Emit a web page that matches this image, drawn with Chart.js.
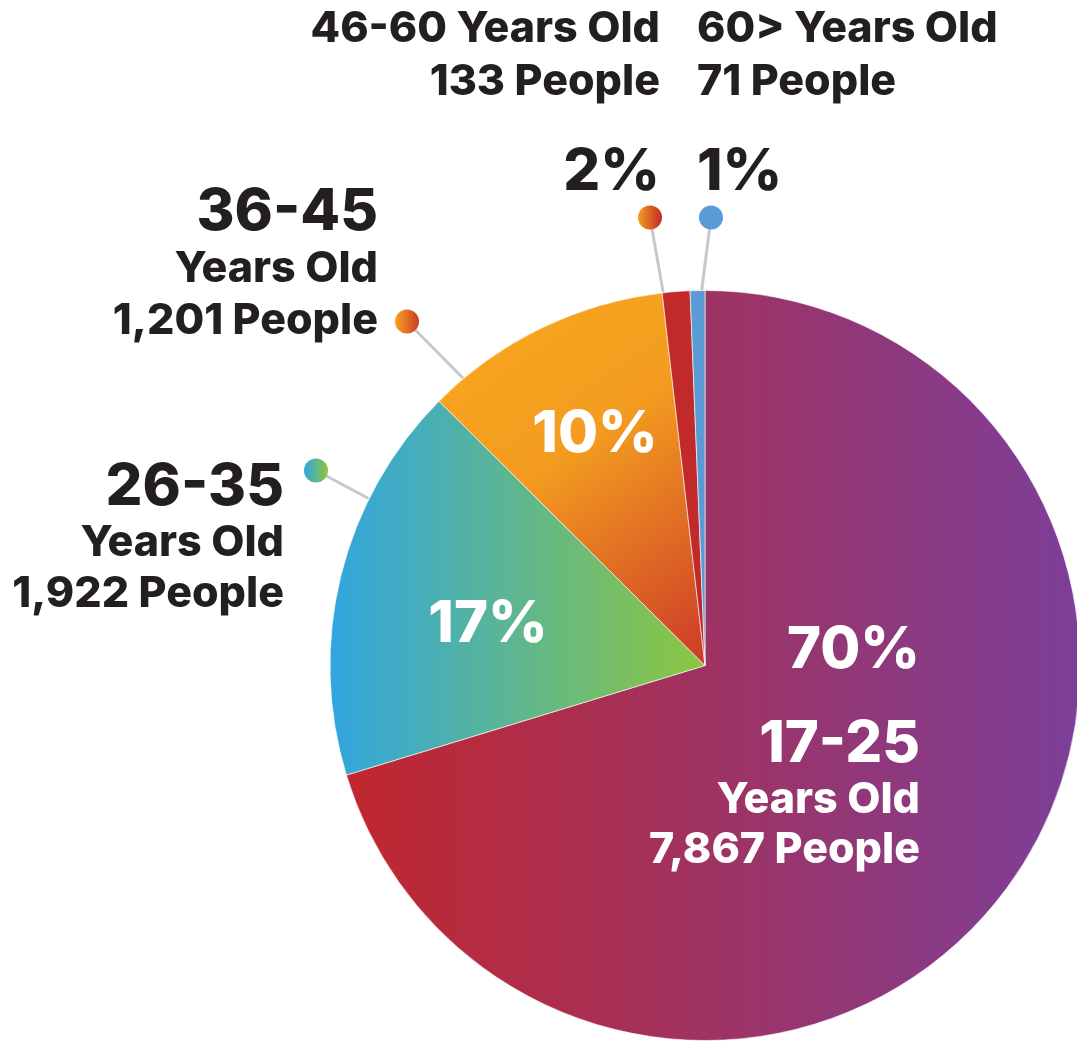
<!DOCTYPE html>
<html>
<head>
<meta charset="utf-8">
<script src="https://cdn.jsdelivr.net/npm/chart.js@4.4.0/dist/chart.umd.min.js"></script>
<style>
  html, body { margin: 0; padding: 0; background: #fff; overflow: hidden; }
  #wrap { width: 1100px; height: 1041px; }
</style>
</head>
<body>
<div id="wrap"><canvas id="ageChart" width="1100" height="1041"></canvas></div>
<script>
const ageGroups = ["17-25", "26-35", "36-45", "46-60", "60>"];
const people = [7867, 1922, 1201, 133, 71];
const pctLabels = ["70%", "17%", "10%", "2%", "1%"];

const FONT = "Inter, 'Open Sans', sans-serif";
const DARK = "#231f20";
const BIG = 58, SMALL = 43;

// pie centre and radius from the chart area
function pieGeom(chart) {
  const a = chart.chartArea;
  return { cx: (a.left + a.right) / 2, cy: (a.top + a.bottom) / 2, r: Math.min(a.right - a.left, a.bottom - a.top) / 2 };
}

function sliceFill(context) {
  const chart = context.chart;
  const fallback = ["#a33560", "#6fb86a", "#f29a20", "#c22a29", "#5b9bd5"][context.dataIndex];
  if (!chart.chartArea) return fallback;
  const { cx, cy, r } = pieGeom(chart);
  if (!isFinite(cx) || !isFinite(r)) return fallback;
  const c = chart.ctx;
  let g;
  switch (context.dataIndex) {
    case 0:
      g = c.createLinearGradient(cx - r * 0.96, 0, cx + r, 0);
      g.addColorStop(0, "#c1272d");
      g.addColorStop(1, "#7c3f99");
      return g;
    case 1:
      g = c.createLinearGradient(cx - r, 0, cx, 0);
      g.addColorStop(0, "#30a6e0");
      g.addColorStop(1, "#8dc63f");
      return g;
    case 2:
      g = c.createLinearGradient(cx - r * 0.6, cy - r * 0.85, cx, cy);
      g.addColorStop(0, "#f8a41e");
      g.addColorStop(0.35, "#f39c20");
      g.addColorStop(1, "#cc3a28");
      return g;
    case 3:
      return "#c22a29";
    default:
      return "#5b9bd5";
  }
}

// outside labels: a = clockwise angle (deg) from top where the leader meets the pie
const outside = {
  1: { dot: [-389, -195], a: 296.4, align: "right", x: -421, lines: [[0, BIG], [51, SMALL], [102, SMALL]], y: -161, dotCols: ["#30a6e0", "#8dc63f"] },
  2: { dot: [-298, -344], a: 319.9, align: "right", x: -327, lines: [[0, BIG], [52, SMALL], [104, SMALL]], y: -436, dotCols: ["#f8a41e", "#cc3a28"] },
  3: { dot: [-55, -448], a: 353.6, align: "right", x: -45, y: -624, dotCols: ["#f39c20", "#c22a29"] },
  4: { dot: [6, -448], a: 359.5, align: "left", x: -8, y: -624, dotCols: ["#5b9bd5", "#5b9bd5"] }
};

const labelPlugin = {
  id: "ageLabels",
  afterDatasetsDraw(chart) {
    const c = chart.ctx;
    const { cx, cy, r } = pieGeom(chart);
    c.save();
    c.textBaseline = "alphabetic";

    // inside labels
    c.fillStyle = "#fff";
    c.textAlign = "center";
    c.font = "800 " + BIG + "px " + FONT;
    c.fillText(pctLabels[2], cx - 110, cy - 214);
    c.fillText(pctLabels[1], cx - 217, cy - 24);
    c.textAlign = "right";
    c.fillText(pctLabels[0], cx + 215, cy + 2);
    c.fillText(ageGroups[0], cx + 215, cy + 96);
    c.font = "800 " + SMALL + "px " + FONT;
    c.fillText("Years Old", cx + 215, cy + 147);
    c.fillText(people[0].toLocaleString("en-US") + " People", cx + 215, cy + 197);

    // outside labels with leader lines and dots
    Object.keys(outside).forEach(k => {
      const i = +k, o = outside[i];
      const dx = cx + o.dot[0], dy = cy + o.dot[1];
      const t = o.a * Math.PI / 180;
      const ex = cx + r * Math.sin(t), ey = cy - r * Math.cos(t);
      c.strokeStyle = "#c8c8c8";
      c.lineWidth = 3;
      c.beginPath();
      c.moveTo(dx, dy);
      c.lineTo(ex, ey);
      c.stroke();
      const g = c.createLinearGradient(dx - 12, 0, dx + 12, 0);
      g.addColorStop(0, o.dotCols[0]);
      g.addColorStop(1, o.dotCols[1]);
      c.fillStyle = g;
      c.beginPath();
      c.arc(dx, dy, 12, 0, Math.PI * 2);
      c.fill();

      c.fillStyle = DARK;
      c.textAlign = o.align;
      const tx = cx + o.x;
      if (i <= 2) {
        const txt = [ageGroups[i], "Years Old", people[i].toLocaleString("en-US") + " People"];
        o.lines.forEach((ln, j) => {
          c.font = "800 " + ln[1] + "px " + FONT;
          c.fillText(txt[j], tx, cy + o.y + ln[0]);
        });
      } else {
        c.font = "800 " + SMALL + "px " + FONT;
        c.fillText(ageGroups[i] + " Years Old", tx, cy + o.y);
        c.fillText(people[i].toLocaleString("en-US") + " People", tx, cy + o.y + 53);
        c.font = "800 " + BIG + "px " + FONT;
        c.fillText(pctLabels[i], tx, cy + o.y + 148);
      }
    });
    c.restore();
  }
};

new Chart(document.getElementById("ageChart"), {
  type: "pie",
  data: {
    labels: ageGroups,
    datasets: [{
      data: people,
      backgroundColor: sliceFill,
      borderColor: "rgba(255,255,255,0.6)",
      borderWidth: 1
    }]
  },
  options: {
    responsive: false,
    animation: false,
    layout: { padding: { left: 329, right: 19, top: 290, bottom: 0 } },
    plugins: { legend: { display: false }, tooltip: { enabled: false } }
  },
  plugins: [labelPlugin]
});
</script>
</body>
</html>
